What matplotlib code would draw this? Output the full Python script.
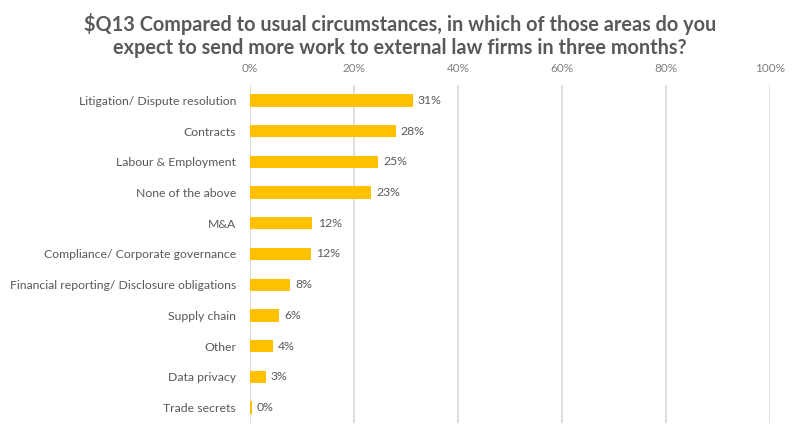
import matplotlib.pyplot as plt

categories = ["Litigation/ Dispute resolution", "Contracts", "Labour & Employment",
              "None of the above", "M&A", "Compliance/ Corporate governance",
              "Financial reporting/ Disclosure obligations", "Supply chain",
              "Other", "Data privacy", "Trade secrets"]
values = [31, 28, 25, 23, 12, 12, 8, 6, 4, 3, 0]
bar_lengths = [31.3, 28.0, 24.6, 23.3, 12.0, 11.7, 7.7, 5.6, 4.4, 3.0, 0.3]
ticks = [0, 20, 40, 60, 80, 100]

plt.rcParams['font.family'] = ['Lato', 'DejaVu Sans']
gray = "#595959"

fig = plt.figure(figsize=(8, 4.36), dpi=100)
ax = fig.add_axes([0.3125, 0.03, 0.65, 0.775])

ypos = range(len(categories))
ax.barh(ypos, bar_lengths, height=0.4, color="#FFC000", zorder=3)
for y, L, v in zip(ypos, bar_lengths, values):
    ax.text(L + 1.0, y, "{:d}%".format(v), va="center", ha="left",
            fontsize=8.8, color=gray)

ax.set_xlim(0, 100)
ax.set_ylim(len(categories) - 0.5, -0.5)
ax.set_yticks(list(ypos))
ax.set_yticklabels(categories, fontsize=8.8, color=gray)
ax.set_xticks(ticks)
ax.set_xticklabels(["{:d}%".format(t) for t in ticks], fontsize=8.5, color="#7f7f7f")
ax.xaxis.tick_top()
ax.tick_params(length=0, pad=8)
ax.tick_params(axis="y", pad=10)
ax.grid(axis="x", color="#d9d9d9", linewidth=1.2, zorder=0)
for s in ax.spines.values():
    s.set_visible(False)

fig.suptitle("$Q13 Compared to usual circumstances, in which of those areas do you\n"
             "expect to send more work to external law firms in three months?",
             x=0.5, y=0.97, fontsize=14.3, fontweight="bold", color=gray,
             linespacing=1.2)

fig.savefig("out.png")
